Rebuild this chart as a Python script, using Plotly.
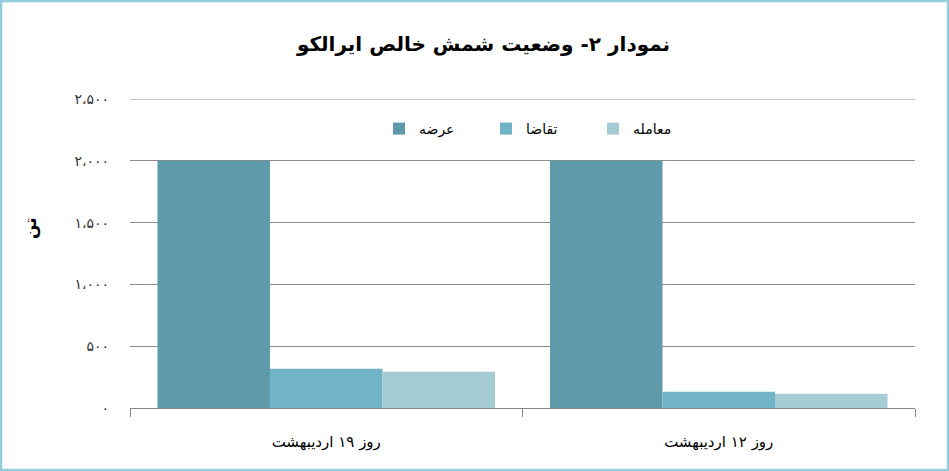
import plotly.graph_objects as go

categories = ["روز ۱۹ اردیبهشت", "روز ۱۲ اردیبهشت"]
supply = [2000, 2000]      # عرضه
demand = [318, 132]        # تقاضا
trade = [294, 116]         # معامله
series_names = ["عرضه", "تقاضا", "معامله"]
tick_vals = [0, 500, 1000, 1500, 2000, 2500]
tick_text = ["۰", "۵۰۰", "۱،۰۰۰", "۱،۵۰۰", "۲،۰۰۰", "۲،۵۰۰"]

colors = ["#5E9AAA", "#72B4C7", "#A5CBD5"]
font_fa = "DejaVu Sans"

W, H = 949, 471
ML, MR, MT, MB = 130, 34, 99, 63
PW, PH = W - ML - MR, H - MT - MB

fig = go.Figure()
for name, vals, c in zip(series_names, [supply, demand, trade], colors):
    fig.add_trace(go.Bar(name=name, x=categories, y=vals, marker=dict(color=c, line=dict(width=0))))

fig.update_layout(
    width=W, height=H,
    barmode="group", bargap=0.14, bargroupgap=0,
    paper_bgcolor="white", plot_bgcolor="white",
    margin=dict(l=ML, r=MR, t=MT, b=MB, autoexpand=False),
    title=dict(text="<b>نمودار ۲- وضعیت شمش خالص ایرالکو</b>", x=0.5 + 9 / W, xanchor="center",
               y=1 - 44 / H, yanchor="middle", font=dict(family=font_fa, size=20, color="black")),
    legend=dict(orientation="h", x=0.5 + 17 / PW, xanchor="center", y=1 + (MT - 129) / PH, yanchor="middle",
                yref="paper",
                font=dict(family=font_fa, size=14, color="black"), traceorder="normal",
                itemwidth=30, entrywidth=62, bgcolor="rgba(0,0,0,0)"),
    font=dict(family=font_fa, size=13, color="black"),
    xaxis=dict(showline=True, linecolor="#888888", linewidth=1, ticks="outside",
               tickson="boundaries", ticklen=8, tickcolor="#888888",
               ticklabelstandoff=20,
               tickfont=dict(family=font_fa, size=15, color="black")),
    yaxis=dict(range=[0, 2500], tickvals=tick_vals, ticktext=tick_text,
               showgrid=True, gridcolor="#8C8C8C", gridwidth=1, zeroline=False,
               showline=False, ticks="", ticklabelstandoff=20,
               tickfont=dict(family=font_fa, size=14, color="#333333")),
    annotations=[dict(text="<b>تن</b>", xref="paper", yref="paper",
                      x=(30 - ML) / PW, y=1 - (228 - MT) / PH, textangle=-90,
                      showarrow=False, xanchor="center", yanchor="middle",
                      font=dict(family=font_fa, size=17, color="black"))],
)
# top gridline at the range maximum
fig.add_shape(type="line", xref="paper", yref="y", x0=0, x1=1, y0=tick_vals[-1], y1=tick_vals[-1],
              line=dict(color="#8C8C8C", width=1))
fig.add_shape(type="rect", xref="paper", yref="paper",
              x0=(1 - ML) / PW, x1=1 + (MR - 1) / PW, y0=-(MB - 1) / PH, y1=1 + (MT - 1) / PH,
              line=dict(color="#92CDDC", width=2.5))
fig.write_html("out.html", config={"displayModeBar": False})
with open("out.html", encoding="utf-8") as f:
    html = f.read()
html = html.replace("<head>", "<head><style>html,body{margin:0;padding:0;overflow:hidden;}</style>", 1)
with open("out.html", "w", encoding="utf-8") as f:
    f.write(html)
